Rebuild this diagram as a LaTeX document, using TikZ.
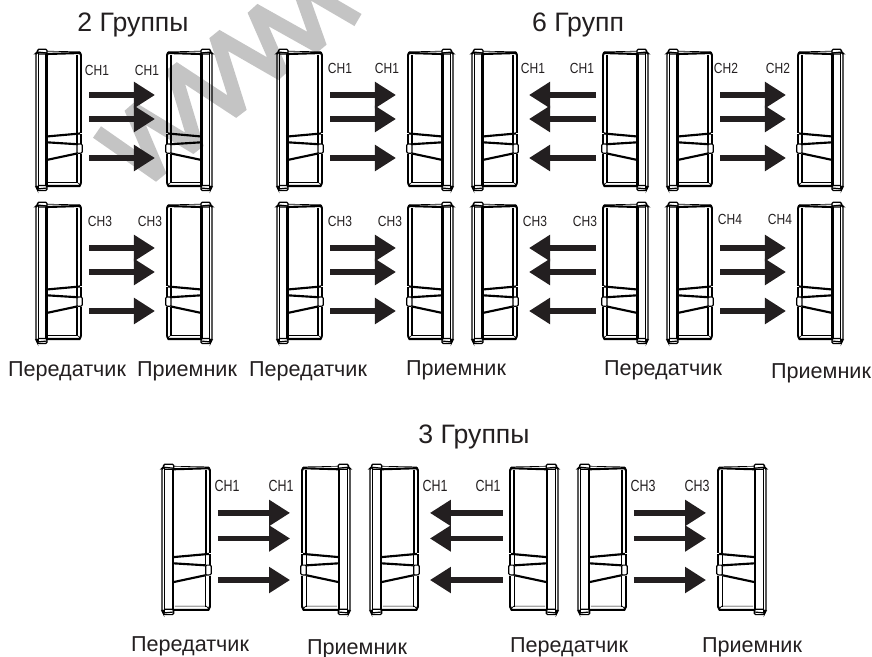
\documentclass[tikz,border=0pt]{standalone}
\usepackage{fontspec}
\setmainfont{Liberation Sans}
\usetikzlibrary{arrows.meta}
\definecolor{ink}{HTML}{231F20}
\definecolor{wmgray}{HTML}{C4C4C4}
\tikzset{
  heavy/.style={line width=1.6pt,draw=black},
  medium/.style={line width=0.9pt,draw=black},
  thin line/.style={line width=0.5pt,draw=black},
  sensorbody/.pic={
    % rounded outer shell
    \draw[medium,rounded corners=1.2] (11,3) -- (1,2) -- (0,3) -- (0,137) -- (1,139) -- (11,138);
    \draw[thin line] (2.6,2) -- (2.6,138);
    % end caps of the strip
    \draw[medium,rounded corners=1] (1.5,-0.8) rectangle (11,4);
    \draw[medium,rounded corners=1] (1.5,135.5) rectangle (11,140.5);
    % main body
    \draw[heavy] (10.5,4) -- (10.5,136);
    \draw[thin line] (11,1.2) -- (44,1.8);
    \draw[heavy] (10.5,4) -- (44,3) -- (45,5);
    \draw[medium] (45,5) -- (45,83);
    \draw[heavy] (41,5) -- (41,83);
    \draw[heavy] (10.5,136) -- (43.5,136) -- (45,133);
    \draw[thin line] (12,132.5) -- (41.5,132.5) -- (44.5,135.5);
    \draw[medium] (45,104) -- (45,133);
    \draw[medium] (41,104) -- (41,133);
    % clasp
    \draw[heavy] (10.5,86.5) -- (44,83.5);
    \draw[heavy] (10.5,92.3) -- (41,94.2);
    \draw[heavy] (10.5,110) -- (41,103.5);
    \draw[medium] (41,83.5) -- (41,94);
    \draw[medium] (45,83.5) -- (45,94);
    \draw[medium,rounded corners=0.8] (41,94) -- (46.2,94) -- (46.2,103) -- (41,103.5) -- cycle;
    % pilot mark
    \draw[heavy] (45.3,18.5) -- (45.3,21.5);
    \coordinate (-a) at (45,45);
    \coordinate (-b) at (45,69);
    \coordinate (-c) at (45,108);
  },
  mirrored/.style={xscale=-1},
  large/.style={scale=1.065},
  largemirrored/.style={xscale=-1.065,yscale=1.065},
  beam/.style={draw=ink,line width=3.9pt,-{Triangle[length=15.8pt,width=18.8pt]}},
  forward/.style={beam,shorten <=6pt,shorten >=9pt},
  backward/.style={beam,shorten <=5.5pt,shorten >=9pt},
  caption/.style={font=\fontsize{16.2}{19}\selectfont,text=ink,inner sep=0pt,anchor=base},
  heading/.style={font=\fontsize{20}{24}\selectfont,text=ink,inner sep=0pt,anchor=base},
  chan/.style={font=\fontsize{11}{13}\selectfont,text=ink,inner sep=0pt,anchor=base},
}
\newcommand{\chtext}[1]{\scalebox{.82}[1]{#1}}
\newcommand{\chbig}[1]{\scalebox{.85}[1.1]{#1}}
\begin{document}
\begin{tikzpicture}[x=0.75pt,y=-0.75pt]
\useasboundingbox (0,0) rectangle (872,657);
% watermark
\begin{scope}
\clip (0,0) rectangle (872,657);
\draw[draw=wmgray,line width=10.5pt,line join=bevel]
  (97,132) -- (160,176) -- (131,108) -- (197,148) -- (173,68) -- (240,112) -- (216,36) -- (282,74) -- (254,10) -- (320,47) -- (298,-15) -- (358,20);
\end{scope}
% top row
\pic (t1) at (36,50) {sensorbody};
\pic[mirrored] (r1) at (212,50) {sensorbody};
\pic (t2) at (277,50) {sensorbody};
\pic[mirrored] (r2) at (453,50) {sensorbody};
\pic (t3) at (472,50) {sensorbody};
\pic[mirrored] (r3) at (648,50) {sensorbody};
\pic (t4) at (667,50) {sensorbody};
\pic[mirrored] (r4) at (843,50) {sensorbody};
% second row
\pic (t5) at (36,203) {sensorbody};
\pic[mirrored] (r5) at (212,203) {sensorbody};
\pic (t6) at (277,203) {sensorbody};
\pic[mirrored] (r6) at (453,203) {sensorbody};
\pic (t7) at (472,203) {sensorbody};
\pic[mirrored] (r7) at (648,203) {sensorbody};
\pic (t8) at (667,203) {sensorbody};
\pic[mirrored] (r8) at (843,203) {sensorbody};
% bottom row
\pic[large] (t9) at (162,465) {sensorbody};
\pic[largemirrored] (r9) at (350,465) {sensorbody};
\pic[large] (t10) at (370,465) {sensorbody};
\pic[largemirrored] (r10) at (558,465) {sensorbody};
\pic[large] (t11) at (578,465) {sensorbody};
\pic[largemirrored] (r11) at (766,465) {sensorbody};
% beams
\foreach \k in {a,b,c}{
  \draw[forward] (t1-\k) -- (r1-\k);
  \draw[forward] (t2-\k) -- (r2-\k);
  \draw[backward] (r3-\k) -- (t3-\k);
  \draw[forward] (t4-\k) -- (r4-\k);
  \draw[forward] (t5-\k) -- (r5-\k);
  \draw[forward] (t6-\k) -- (r6-\k);
  \draw[backward] (r7-\k) -- (t7-\k);
  \draw[forward] (t8-\k) -- (r8-\k);
  \draw[forward] (t9-\k) -- (r9-\k);
  \draw[backward] (r10-\k) -- (t10-\k);
  \draw[forward] (t11-\k) -- (r11-\k);
}
% headings
\node[heading] (h1) at (133,31) {2 Группы};
\node[heading] (h2) at (578,31) {6 Групп};
\node[heading] (h3) at (474,443) {3 Группы};
% channel labels
\node[chan] (c1) at (97,75) {\chtext{CH1}};
\node[chan] (c2) at (147,75) {\chtext{CH1}};
\node[chan] (c3) at (340,73) {\chtext{CH1}};
\node[chan] (c4) at (387,73) {\chtext{CH1}};
\node[chan] (c5) at (533,73) {\chtext{CH1}};
\node[chan] (c6) at (582,73) {\chtext{CH1}};
\node[chan] (c7) at (726,73) {\chtext{CH2}};
\node[chan] (c8) at (778,73) {\chtext{CH2}};
\node[chan] (c9) at (100,226) {\chtext{CH3}};
\node[chan] (c10) at (150,226) {\chtext{CH3}};
\node[chan] (c11) at (340,226) {\chtext{CH3}};
\node[chan] (c12) at (390,226) {\chtext{CH3}};
\node[chan] (c13) at (535,226) {\chtext{CH3}};
\node[chan] (c14) at (585,226) {\chtext{CH3}};
\node[chan] (c15) at (730,224) {\chtext{CH4}};
\node[chan] (c16) at (780,224) {\chtext{CH4}};
\node[chan] (c17) at (227,491) {\chbig{CH1}};
\node[chan] (c18) at (281,491) {\chbig{CH1}};
\node[chan] (c19) at (435,491) {\chbig{CH1}};
\node[chan] (c20) at (488,491) {\chbig{CH1}};
\node[chan] (c21) at (643,491) {\chbig{CH3}};
\node[chan] (c22) at (697,491) {\chbig{CH3}};
% captions
\node[caption] (p1) at (67,376) {Передатчик};
\node[caption] (p2) at (187,376) {Приемник};
\node[caption] (p3) at (308,376) {Передатчик};
\node[caption] (p4) at (456,375) {Приемник};
\node[caption] (p5) at (663,375) {Передатчик};
\node[caption] (p6) at (821,378) {Приемник};
\node[caption] (p7) at (190,651) {Передатчик};
\node[caption] (p8) at (357,654) {Приемник};
\node[caption] (p9) at (569,652) {Передатчик};
\node[caption] (p10) at (752,652) {Приемник};
\end{tikzpicture}
\end{document}
